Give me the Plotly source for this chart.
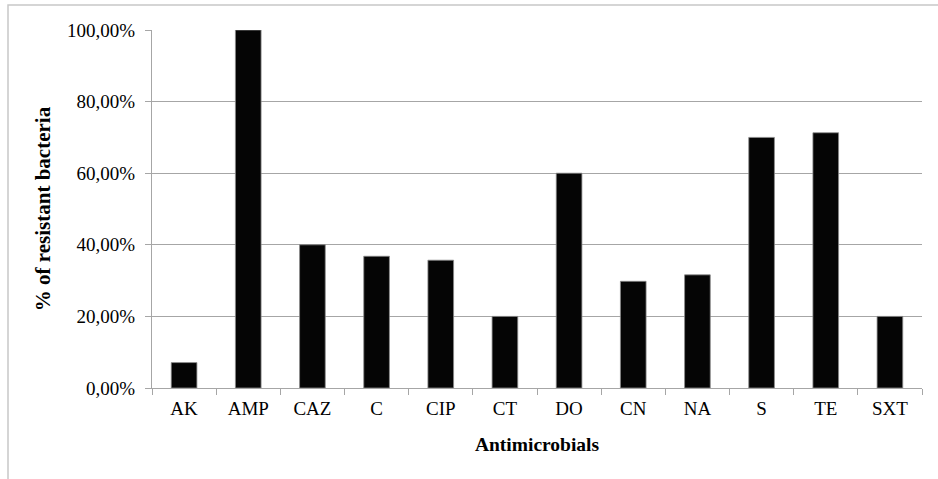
import plotly.graph_objects as go

categories = ["AK", "AMP", "CAZ", "C", "CIP", "CT", "DO", "CN", "NA", "S", "TE", "SXT"]
resistance_pct = [7.1, 100, 40, 36.8, 35.7, 20, 60, 29.8, 31.6, 70, 71.3, 20]
y_ticks = [0, 20, 40, 60, 80, 100]
y_tick_labels = [f"{v:.2f}".replace(".", ",") + "%" for v in y_ticks]

W, H = 938, 479
L, R, T, B = 152, 16, 30, 91

fig = go.Figure()
fig.add_trace(go.Bar(
    x=categories, y=resistance_pct,
    marker=dict(color="#050505", line=dict(color="#8a8a8a", width=0.8)),
    width=0.4,
))

grid = "#a6a6a6"
font_family = "Liberation Serif, Times New Roman, serif"
fs = 19

fig.update_layout(
    width=W, height=H,
    margin=dict(l=L, r=R, t=T, b=B, pad=0),
    paper_bgcolor="white", plot_bgcolor="white",
    showlegend=False,
    font=dict(family=font_family, size=fs, color="black"),
    xaxis=dict(
        type="category",
        showline=True, linecolor=grid, linewidth=1,
        ticks="outside", tickson="boundaries", ticklen=6, tickcolor=grid, tickwidth=1,
        showgrid=False,
        tickfont=dict(family=font_family, size=fs),
        ticklabelstandoff=3,
        title=dict(text="<b>Antimicrobials</b>", font=dict(family=font_family, size=19.5), standoff=19),
    ),
    yaxis=dict(
        range=[0, 100],
        tickvals=y_ticks, ticktext=y_tick_labels,
        showline=True, linecolor=grid, linewidth=1,
        ticks="outside", ticklen=6, tickcolor=grid, tickwidth=1,
        showgrid=True, gridcolor=grid, gridwidth=1,
        zeroline=False,
        tickfont=dict(family=font_family, size=fs),
        ticklabelstandoff=6,
        title=dict(text="<b>% of resistant bacteria</b>", font=dict(family=font_family, size=21), standoff=10),
    ),
)

# outer chart frame (top and left edges visible in the reference)
plot_w = W - L - R
plot_h = H - T - B
x0 = (8 - L) / plot_w
x1 = (W + 5 - L) / plot_w
y1 = (H - B - 5) / plot_h
y0 = (H - B - (H + 5)) / plot_h
fig.add_shape(type="rect", xref="paper", yref="paper", x0=x0, x1=x1, y0=y0, y1=y1,
              line=dict(color="#c8c8c8", width=1.5), layer="below")

fig.write_html("out.html")
